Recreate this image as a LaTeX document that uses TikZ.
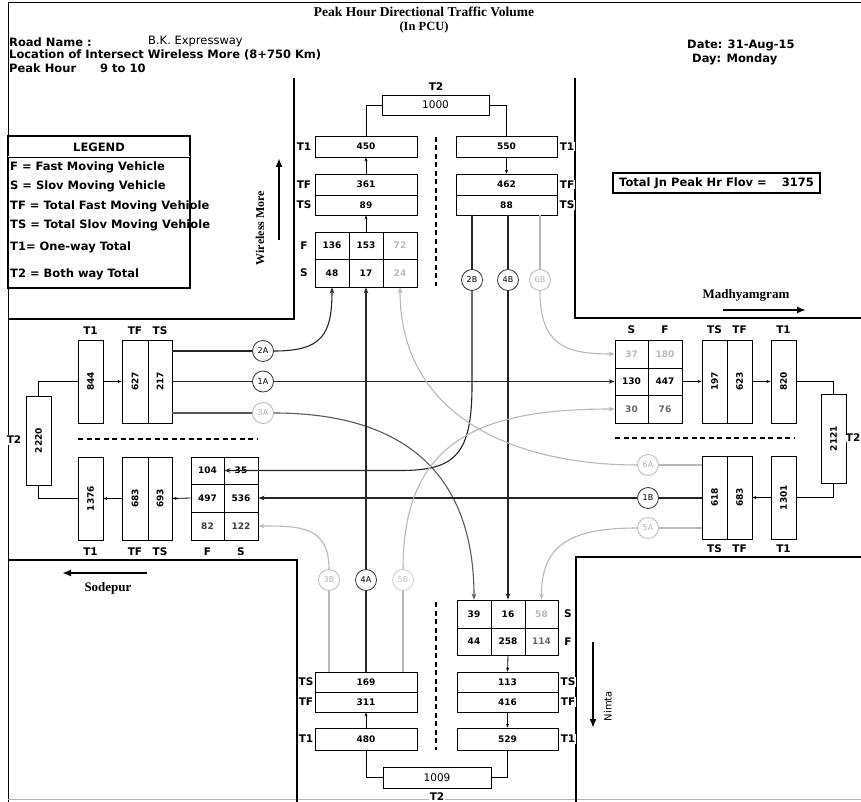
\documentclass[tikz,border=0pt]{standalone}
\usepackage{fontspec}
\usepackage{graphicx}
\setmainfont{DejaVu Sans}
\newfontfamily\serifb{Liberation Serif}
\usetikzlibrary{arrows.meta}
\newcommand\numf{\bfseries\fontsize{9}{10}\selectfont}
\newcommand\vt[1]{\rotatebox{90}{#1}}
% box by corners: [style]{name}{x1}{y1}{x2}{y2}{text}
\newcommand\mybx[7][]{%
  \pgfmathsetmacro\bxcx{(#3+#5)/2}\pgfmathsetmacro\bxcy{(#4+#6)/2}%
  \pgfmathsetmacro\bxw{#5-#3}\pgfmathsetmacro\bxh{#6-#4}%
  \node[bx,#1,minimum width=\bxw pt,minimum height=\bxh pt] (#2) at (\bxcx,\bxcy) {#7};}
\begin{document}
\begin{tikzpicture}[x=1pt,y=-1pt,
  bx/.style={draw, line width=0.8pt, fill=white, inner sep=0pt, font=\numf},
  bxG/.style={text=gray!55},
  bxM/.style={text=black!60},
  t2bx/.style={font=\fontsize{10.5}{12}\selectfont},
  lbl/.style={font=\bfseries\fontsize{10.5}{12}\selectfont, inner sep=1pt, fill=white},
  hd/.style={font=\bfseries\fontsize{11.5}{13}\selectfont, inner sep=0pt, anchor=west},
  road/.style={line width=1.6pt},
  thin/.style={line width=0.8pt},
  conn/.style={line width=1.1pt, black!85},
  connD/.style={line width=1.1pt, black!65},
  connG/.style={line width=1.1pt, gray!55},
  arr/.style={-{Stealth[length=6pt,width=4.5pt]}},
  arrS/.style={thin, -{Stealth[length=4pt,width=3pt]}},
  circ/.style={circle, draw=black!80, line width=0.8pt, fill=white, minimum size=21pt, inner sep=0pt, font=\fontsize{8}{9}\selectfont},
  circG/.style={circ, draw=gray!55, text=gray!60},
  dsh/.style={line width=1.6pt, dash pattern=on 5pt off 3.5pt},
  dir/.style={line width=2pt, -{Latex[length=9pt,width=7pt]}},
  srf/.style={font=\serifb\bfseries\fontsize{13}{15}\selectfont, inner sep=0pt}
]
\useasboundingbox (0,0) rectangle (861,802);
\fill[white] (0,0) rectangle (861,802);
% frame
\draw[line width=1pt] (8,802) -- (8,3) -- (861,3);
\draw[line width=0.6pt, gray!60] (8,799) -- (861,799);

% titles
\node[font=\serifb\bfseries\fontsize{13.5}{15}\selectfont, inner sep=0pt] (title) at (424,12) {Peak Hour Directional Traffic Volume};
\node[font=\serifb\bfseries\fontsize{12.5}{14}\selectfont, inner sep=0pt] (pcu) at (424,27) {(In PCU)};
\node[hd] (rn) at (9,42) {Road Name :};
\node[hd, font=\fontsize{11.5}{13}\selectfont] (rnv) at (148,42) {B.K. Expressway};
\node[hd] (loc) at (9,55) {Location of Intersect Wireless More (8+750 Km)};
\node[hd] (ph) at (9,68) {Peak Hour};
\node[hd] (phv) at (100,68) {9 to 10};
\node[hd] (date) at (687,45) {Date: 31-Aug-15};
\node[hd] (day) at (692,59) {Day: Monday};

% legend
\draw[line width=1.3pt] (8,136) rectangle (190,288);
\draw[line width=0.5pt, double, double distance=1pt] (8,157) -- (190,157);
\node[hd, anchor=center] (leg) at (99,147) {LEGEND};
\node[hd] (l1) at (10,167) {F = Fast Moving Vehicle};
\node[hd] (l2) at (10,186) {S = Slov Moving Vehicle};
\node[hd] (l3) at (10,206) {TF = Total Fast Moving Vehiole};
\node[hd] (l4) at (10,225) {TS = Total Slov Moving Vehiole};
\node[hd] (l5) at (10,247) {T1= One-way Total};
\node[hd] (l6) at (10,274) {T2 = Both way Total};

% total flow
\node[draw, line width=1.5pt, hd, anchor=center, minimum width=207pt, minimum height=20pt, inner sep=2pt] (tot) at (716.5,183) {Total Jn Peak Hr Flov =\hspace{1.3em}3175};

% roads
\draw[road] (294,78) -- (294,319) -- (8,319);
\draw[road] (575,78) -- (575,318) -- (861,318);
\draw[road] (8,560) -- (297,560) -- (297,802);
\draw[road] (861,557) -- (576,557) -- (576,802);

% direction arrows
\coordinate (wmA) at (279,240); \coordinate (wmB) at (279,158);
\draw[dir] (wmA) -- (wmB);
\node[srf, font=\serifb\bfseries\fontsize{12}{14}\selectfont, rotate=90] (wm) at (260,228) {Wireless More};
\coordinate (mdA) at (723,310); \coordinate (mdB) at (806,310);
\draw[dir] (mdA) -- (mdB);
\node[srf] (md) at (746,295) {Madhyamgram};
\coordinate (sdA) at (147,573); \coordinate (sdB) at (62,573);
\draw[dir] (sdA) -- (sdB);
\node[srf] (sd) at (108,588) {Sodepur};
\coordinate (nmA) at (593,642); \coordinate (nmB) at (593,728);
\draw[dir] (nmA) -- (nmB);
\node[font=\fontsize{10}{12}\selectfont, inner sep=0pt, rotate=90] (nm) at (608,706) {Nimta};

% ===== North =====
\mybx[t2bx]{nT2}{382}{95}{489}{115}{1000}
\node[lbl] (lnT2) at (436,87) {T2};
\mybx{nT1L}{315}{136}{417}{157}{450}
\mybx{nTFL}{315}{174}{417}{195}{361}
\mybx{nTSL}{315}{195}{417}{215}{89}
\mybx{gN11}{315}{232}{349}{259}{136}
\mybx{gN12}{349}{232}{383}{259}{153}
\mybx[bxG]{gN13}{383}{232}{417}{259}{72}
\mybx{gN21}{315}{259}{349}{287}{48}
\mybx{gN22}{349}{259}{383}{287}{17}
\mybx[bxG]{gN23}{383}{259}{417}{287}{24}
\node[lbl] (lnT1) at (304,146.5) {T1};
\node[lbl] (lnTF) at (304,184.5) {TF};
\node[lbl] (lnTS) at (304,205) {TS};
\node[lbl] (lnF) at (304,245.5) {F};
\node[lbl] (lnS) at (304,273) {S};
\mybx{nT1R}{456}{136}{557}{157}{550}
\mybx{nTFR}{456}{174}{557}{195}{462}
\mybx{nTSR}{456}{195}{557}{215}{88}
\node[lbl] (rnT1) at (567,146.5) {T1};
\node[lbl] (rnTF) at (567,184.5) {TF};
\node[lbl] (rnTS) at (567,205) {TS};
\draw[thin] (nT2.west) -| (nT1L.north);
\draw[thin] (nT2.east) -| (nT1R.north);
\draw[arrS] (nTFL.north) -- (nT1L.south);
\draw[arrS] (gN12.north) -- (nTSL.south);
\draw[arrS] (nT1R.south) -- (nTFR.north);
\coordinate (dn1) at (436,137); \coordinate (dn2) at (436,286);
\draw[dsh] (dn1) -- (dn2);
\node[circ] (c2B) at (472,280) {2B};
\node[circ] (c4B) at (508,280) {4B};
\node[circG] (c6B) at (540,280) {6B};
\draw[conn] (nTSR.south -| c2B) -- (c2B);
\draw[conn] (nTSR.south -| c4B) -- (c4B);
\draw[connG] (nTSR.south -| c6B) -- (c6B);

% ===== West =====
\mybx{wT1a}{78}{340}{103}{423}{\vt{844}}
\mybx{wTFa}{122}{340}{148}{423}{\vt{627}}
\mybx{wTSa}{148}{340}{172}{423}{\vt{217}}
\mybx{wT2}{26}{396}{51}{485}{\vt{2220}}
\mybx{wT1b}{78}{457}{103}{540}{\vt{1376}}
\mybx{wTFb}{122}{457}{148}{540}{\vt{683}}
\mybx{wTSb}{148}{457}{172}{540}{\vt{693}}
\mybx{gW11}{191}{457}{224}{484}{104}
\mybx{gW12}{224}{457}{258}{484}{35}
\mybx{gW21}{191}{484}{224}{512}{497}
\mybx{gW22}{224}{484}{258}{512}{536}
\mybx[text=black!75]{gW31}{191}{512}{224}{540}{82}
\mybx[text=black!75]{gW32}{224}{512}{258}{540}{122}
\node[lbl] (lwT1) at (90.5,331) {T1};
\node[lbl] (lwTF) at (135,331) {TF};
\node[lbl] (lwTS) at (160,331) {TS};
\node[lbl] (lwT2) at (14,440) {T2};
\node[lbl] (bwT1) at (90.5,552) {T1};
\node[lbl] (bwTF) at (135,552) {TF};
\node[lbl] (bwTS) at (160,552) {TS};
\node[lbl] (bwF) at (207.5,552) {F};
\node[lbl] (bwS) at (241,552) {S};
\draw[arrS] (wT1a.east) -- (wTFa.west);
\draw[thin] (wT2.north) |- (wT1a.west);
\draw[thin] (wT2.south) |- (wT1b.west);
\draw[arrS] (gW21.west) -- (wTSb.east);
\draw[arrS] (wTFb.west) -- (wT1b.east);
\coordinate (dw1) at (78,439); \coordinate (dw2) at (258,439);
\draw[dsh] (dw1) -- (dw2);
\node[circ] (c2A) at (263,351) {2A};
\node[circ] (c1A) at (263,381.5) {1A};
\node[circG] (c3A) at (263,413) {3A};
\draw[conn] (c2A -| wTSa.east) -- (c2A);
\draw[conn] (c1A -| wTSa.east) -- (c1A);
\draw[connD] (c3A -| wTSa.east) -- (c3A);

% ===== East =====
\mybx[bxG]{gE11}{615}{340}{648}{368}{37}
\mybx[bxG]{gE12}{648}{340}{682}{368}{180}
\mybx{gE21}{615}{368}{648}{395}{130}
\mybx{gE22}{648}{368}{682}{395}{447}
\mybx[bxM]{gE31}{615}{395}{648}{423}{30}
\mybx[bxM]{gE32}{648}{395}{682}{423}{76}
\mybx{eTSa}{702}{340}{727}{423}{\vt{197}}
\mybx{eTFa}{727}{340}{752}{423}{\vt{623}}
\mybx{eT1a}{771}{340}{796}{423}{\vt{820}}
\mybx{eT2}{821}{394}{846}{483}{\vt{2121}}
\mybx{eTSb}{702}{456}{727}{539}{\vt{618}}
\mybx{eTFb}{727}{456}{752}{539}{\vt{683}}
\mybx{eT1b}{771}{456}{796}{539}{\vt{1301}}
\node[lbl] (leS) at (631.5,330) {S};
\node[lbl] (leF) at (665,330) {F};
\node[lbl] (leTS) at (714.5,330) {TS};
\node[lbl] (leTF) at (739.5,330) {TF};
\node[lbl] (leT1) at (783.5,330) {T1};
\node[lbl, anchor=east, inner sep=0.5pt] (leT2) at (861,438) {T2};
\node[lbl] (beTS) at (714.5,549) {TS};
\node[lbl] (beTF) at (739.5,549) {TF};
\node[lbl] (beT1) at (783.5,549) {T1};
\draw[arrS] (gE22.east) -- (eTSa.west);
\draw[arrS] (eTFa.east) -- (eT1a.west);
\draw[thin] (eT1a.east) -| (eT2.north);
\draw[thin] (eT2.south) |- (eT1b.east);
\draw[arrS] (eT1b.west) -- (eTFb.east);
\coordinate (de1) at (615,438); \coordinate (de2) at (795,438);
\draw[dsh] (de1) -- (de2);
\node[circG] (c6A) at (648,465) {6A};
\node[circ] (c1B) at (648,498) {1B};
\node[circG] (c5A) at (648,528) {5A};
\draw[connG] (c6A -| eTSb.west) -- (c6A);
\draw[conn] (c1B -| eTSb.west) -- (c1B);
\draw[connG] (c5A -| eTSb.west) -- (c5A);

% ===== South =====
\mybx{gS11}{457}{600}{491}{628}{39}
\mybx{gS12}{491}{600}{525}{628}{16}
\mybx[bxG]{gS13}{525}{600}{558}{628}{58}
\mybx{gS21}{457}{628}{491}{655}{44}
\mybx{gS22}{491}{628}{525}{655}{258}
\mybx[bxM]{gS23}{525}{628}{558}{655}{114}
\mybx{sTSR}{457}{672}{558}{692}{113}
\mybx{sTFR}{457}{692}{558}{712}{416}
\mybx{sT1R}{457}{728}{558}{750}{529}
\mybx{sTSL}{315}{672}{417}{692}{169}
\mybx{sTFL}{315}{692}{417}{712}{311}
\mybx{sT1L}{315}{728}{417}{750}{480}
\mybx[t2bx]{sT2}{383}{767}{491}{788}{1009}
\node[lbl] (lsS) at (568,614) {S};
\node[lbl] (lsF) at (568,641.5) {F};
\node[lbl] (rsTS) at (568,682) {TS};
\node[lbl] (rsTF) at (568,702) {TF};
\node[lbl] (rsT1) at (568,739) {T1};
\node[lbl] (lsTS) at (306,682) {TS};
\node[lbl] (lsTF) at (306,702) {TF};
\node[lbl] (lsT1) at (306,739) {T1};
\node[lbl] (lsT2) at (437,797) {T2};
\draw[arrS] (gS22.south) -- (sTSR.north);
\draw[arrS] (sTFR.south) -- (sT1R.north);
\draw[arrS] (sT1L.north) -- (sTFL.south);
\draw[thin] (sT1L.south) |- (sT2.west);
\draw[thin] (sT1R.south) |- (sT2.east);
\coordinate (ds1) at (436,602); \coordinate (ds2) at (436,750);
\draw[dsh] (ds1) -- (ds2);
\node[circG] (c3B) at (329,580) {3B};
\node[circ] (c4A) at (366,580) {4A};
\node[circG, draw=gray!40, text=gray!45] (c5B) at (403,580) {5B};
\draw[connG] (sTSL.north -| c3B) -- (c3B);
\draw[conn] (sTSL.north -| c4A) -- (c4A);
\draw[connG] (sTSL.north -| c5B) -- (c5B);

% ===== movements =====
\draw[conn, arr] (c2A.east) .. controls (322,351) and (332,335) .. (gN21.south);
\draw[conn, arr] (c1A.east) -- (gE21.west);
\draw[connD, arr] (c3A.east) .. controls (400,413) and (474,470) .. (gS11.north);
\draw[conn, arr] (c2B.south) -- (472,385) .. controls (472,455) and (455,470.5) .. (400,470.5) -- (gW11.east);
\draw[conn, arr] (c4B.south) -- (gS12.north);
\draw[connG, arr] (c6B.south) .. controls (540,345) and (565,354) .. (gE11.west);
\draw[connG, arr] (c6A.west) .. controls (520,465) and (400,420) .. (gN23.south);
\draw[conn, arr] (c1B.west) -- (gW22.east);
\draw[connG, arr] (c5A.west) .. controls (570,528) and (541,545) .. (gS13.north);
\draw[connG, arr] (c3B.north) .. controls (329,526) and (300,526) .. (gW32.east);
\draw[conn, arr] (c4A.north) -- (gN22.south);
\draw[connG, arr] (c5B.north) .. controls (403,440) and (480,409) .. (gE31.west);
\end{tikzpicture}
\end{document}
